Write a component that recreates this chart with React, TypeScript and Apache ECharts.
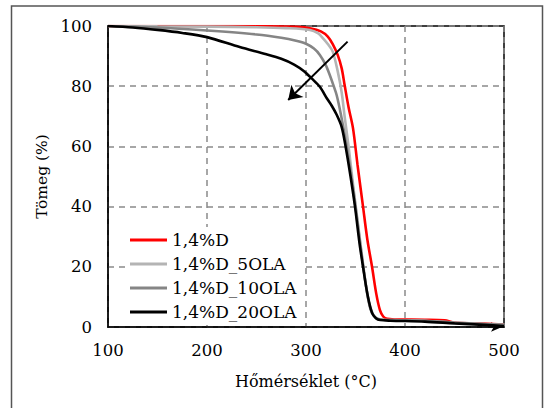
import React, { useEffect, useRef } from "react";
import * as echarts from "echarts";

const seriesNames = ["1,4%D", "1,4%D_5OLA", "1,4%D_10OLA", "1,4%D_20OLA"];
const seriesColors = ["#ff0000", "#b4b4b4", "#858585", "#000000"];

const tempD = [100, 200, 250, 290, 305, 315, 322, 327, 332, 336, 339, 343, 347.5, 352, 357.6, 362, 366.7, 371, 374.7, 378, 382, 390, 420, 440, 450, 470, 500];
const massD = [100, 100, 99.9, 99.7, 99.2, 98.2, 96.5, 94, 90.4, 86, 80.4, 73, 66, 54, 40, 29, 20, 11, 5.6, 3.5, 2.7, 2.5, 2.4, 2.2, 1.5, 1.2, 0.8];

const temp5 = [100, 150, 200, 250, 280, 304, 312, 317, 322, 327, 332, 336, 339, 343, 348, 353, 358, 363, 368, 372, 376, 385, 420, 450, 480, 500];
const mass5 = [100, 99.9, 99.8, 99.6, 99.3, 98.7, 97.6, 96, 94, 91.5, 85, 78, 70, 60, 46, 33, 20, 9, 4, 2.8, 2.5, 2.3, 2.1, 1.5, 1, 0.7];

const temp10 = [100, 150, 200, 250, 275, 290, 300, 308, 314, 320, 324, 328, 331, 335, 340, 345, 350, 355, 360, 365, 370, 375, 385, 420, 450, 480, 500];
const mass10 = [100, 99.5, 98.5, 97.2, 96.1, 95.1, 94.1, 92.5, 90.4, 87, 83.7, 80, 77, 71, 62, 52, 40, 27, 15, 6, 3, 2.5, 2.3, 2.1, 1.4, 1, 0.7];

const temp20 = [100, 125, 150, 175, 200, 233, 260, 275, 288, 298, 306, 314, 321, 326, 331, 336, 340, 345, 349.5, 354, 357.6, 362, 366.7, 371, 375, 385, 420, 450, 480, 500];
const mass20 = [100, 99.5, 98.7, 97.7, 96.3, 93, 90.6, 89.1, 87.2, 85, 82.5, 79.8, 76, 73.5, 70.5, 66.5, 60, 50, 40, 28, 20, 11, 4.7, 2.8, 2.3, 2.1, 1.8, 1.2, 0.7, 0.3];

const xTicks = { min: 100, max: 500, interval: 100 };
const yTicks = { min: 0, max: 100, interval: 20 };

const arrowStart = [342, 94.8];
const arrowEnd = [282, 75.4];

const FONT = "DejaVu Serif";

function pairs(t: number[], m: number[]) {
  return t.map((v, i) => [v, m[i]]);
}

export default function App() {
  const ref = useRef<HTMLDivElement>(null);
  useEffect(() => {
    if (!ref.current) return;
    const chart = echarts.init(ref.current, null, { renderer: "svg" });
    const data = [pairs(tempD, massD), pairs(temp5, mass5), pairs(temp10, mass10), pairs(temp20, mass20)];
    const grid = { lineStyle: { color: "#8a8a8a", width: 1.5, type: [6, 5] as any } };
    chart.setOption({
      animation: false,
      backgroundColor: "#fff",
      textStyle: { fontFamily: FONT },
      grid: {
        left: 108,
        right: 43,
        top: 26,
        bottom: 81,
        show: true,
        borderColor: "#000",
        borderWidth: 1.5,
      },
      legend: {
        orient: "vertical",
        left: 125,
        top: 227,
        padding: [3, 8, 3, 5],
        backgroundColor: "#fff",
        icon: "rect",
        itemWidth: 37,
        itemHeight: 3,
        itemGap: 4,
        data: seriesNames,
        textStyle: { fontFamily: FONT, fontSize: 17, color: "#000", lineHeight: 20 },
      },
      xAxis: {
        type: "value",
        min: xTicks.min,
        max: xTicks.max,
        interval: xTicks.interval,
        name: "Hőmérséklet (°C)",
        nameLocation: "middle",
        nameGap: 46,
        nameTextStyle: { fontFamily: FONT, fontSize: 16, color: "#000" },
        axisLine: {
          show: true,
          lineStyle: { color: "#000", width: 1.5 },
          symbol: ["none", "arrow"],
          symbolSize: [7, 11],
          symbolOffset: [0, -2],
        },
        axisTick: { show: false },
        axisLabel: { fontFamily: FONT, fontSize: 16.5, color: "#000", margin: 15 },
        splitLine: { show: true, ...grid },
      },
      yAxis: {
        type: "value",
        min: yTicks.min,
        max: yTicks.max,
        interval: yTicks.interval,
        name: "Tömeg (%)",
        nameLocation: "middle",
        nameGap: 53,
        nameTextStyle: { fontFamily: FONT, fontSize: 15.5, color: "#000" },
        axisLine: { show: true, lineStyle: { color: "#000", width: 1.5 } },
        axisTick: { show: false },
        axisLabel: { fontFamily: FONT, fontSize: 16.5, color: "#000", margin: 16 },
        splitLine: { show: true, ...grid },
      },
      graphic: [
        {
          type: "rect",
          shape: { x: 11.5, y: 6, width: 531, height: 430 },
          style: { fill: "none", stroke: "#555", lineWidth: 1.5 },
          silent: true,
          z: 100,
        },
      ],
      series: seriesNames.map((name, i) => ({
        name,
        type: "line",
        data: data[i],
        symbol: "none",
        smooth: 0.3,
        lineStyle: { color: seriesColors[i], width: 2.6 },
        itemStyle: { color: seriesColors[i] },
        z: 2 + i,
        markLine:
          i === 3
            ? {
                silent: true,
                symbol: ["none", "arrow"],
                symbolSize: 13,
                label: { show: false },
                lineStyle: { color: "#000", width: 2, type: "solid" },
                data: [[{ coord: arrowStart }, { coord: arrowEnd }]],
              }
            : undefined,
      })),
    });
    return () => chart.dispose();
  }, []);
  return (
    <div
      ref={ref}
      style={{ position: "absolute", left: 0, top: 0, width: 547, height: 408 }}
    />
  );
}
